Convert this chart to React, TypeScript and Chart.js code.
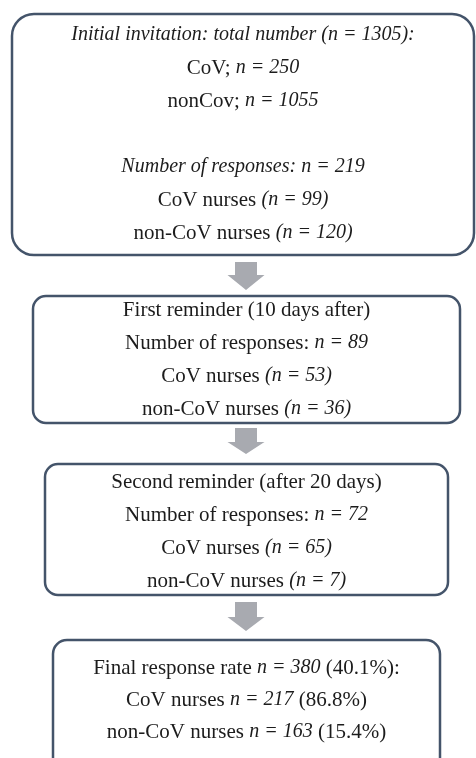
import React, { useEffect, useRef } from "react";
import { Chart, registerables } from "chart.js";

Chart.register(...registerables);

// ---- data ----
const invitedTotal = 1305;
const invitedGroups = ["CoV", "nonCov"];
const invitedCounts = [250, 1055];
const stageTitles = ["", "First reminder (10 days after)", "Second reminder (after 20 days)"];
const responsesTotal = [219, 89, 72];
const responsesCoV = [99, 53, 65];
const responsesNonCoV = [120, 36, 7];
const finalCounts = [380, 217, 163];
const finalRates = ["40.1%", "86.8%", "15.4%"];
const groupLabels = ["CoV nurses", "non-CoV nurses"];

type Seg = { t: string; i?: boolean };
type Line = Seg[] | null;

function buildLines(): Line[][] {
  const box1: Line[] = [
    [{ t: `Initial invitation: total number (n = ${invitedTotal}):`, i: true }],
    [{ t: `${invitedGroups[0]}; ` }, { t: `n = ${invitedCounts[0]}`, i: true }],
    [{ t: `${invitedGroups[1]}; ` }, { t: `n = ${invitedCounts[1]}`, i: true }],
    null,
    [{ t: `Number of responses: n = ${responsesTotal[0]}`, i: true }],
    [{ t: `${groupLabels[0]} ` }, { t: `(n = ${responsesCoV[0]})`, i: true }],
    [{ t: `${groupLabels[1]} ` }, { t: `(n = ${responsesNonCoV[0]})`, i: true }],
  ];
  const reminder = (k: number): Line[] => [
    [{ t: stageTitles[k] }],
    [{ t: "Number of responses: " }, { t: `n = ${responsesTotal[k]}`, i: true }],
    [{ t: `${groupLabels[0]} ` }, { t: `(n = ${responsesCoV[k]})`, i: true }],
    [{ t: `${groupLabels[1]} ` }, { t: `(n = ${responsesNonCoV[k]})`, i: true }],
  ];
  const box4: Line[] = [
    [{ t: "Final response rate " }, { t: `n = ${finalCounts[0]}`, i: true }, { t: ` (${finalRates[0]}):` }],
    [{ t: `${groupLabels[0]} ` }, { t: `n = ${finalCounts[1]}`, i: true }, { t: ` (${finalRates[1]})` }],
    [{ t: `${groupLabels[1]} ` }, { t: `n = ${finalCounts[2]}`, i: true }, { t: ` (${finalRates[2]})` }],
  ];
  return [box1, reminder(1), reminder(2), box4];
}

// ---- layout (positions / styles) ----
const W = 476;
const H = 758;
const boxes = [
  { l: 12, t: 14, r: 474, b: 255, rad: 22, first: 35, gap: 33 },
  { l: 33, t: 296, r: 460, b: 423, rad: 13, first: 310, gap: 33 },
  { l: 45, t: 464, r: 448, b: 595, rad: 13, first: 482, gap: 33 },
  { l: 53, t: 640, r: 440, b: 790, rad: 14, first: 668, gap: 32 },
];
const arrows = [
  { top: 262, base: 275, tip: 290 },
  { top: 428, base: 442, tip: 454 },
  { top: 602, base: 617, tip: 631 },
];
const arrowCx = 246;
const arrowBodyHalf = 11;
const arrowHeadHalf = 18.5;
const FONT_SIZE = 21;
const ITALIC_SIZE = 20;
const FONT_FAMILY = '"Liberation Serif", "DejaVu Serif", serif';

const fontFor = (s: Seg) =>
  s.i ? `italic ${ITALIC_SIZE}px ${FONT_FAMILY}` : `${FONT_SIZE}px ${FONT_FAMILY}`;

const flowPlugin = {
  id: "flow",
  afterDraw(chart: any) {
    const ctx: CanvasRenderingContext2D = chart.ctx;
    const xs = chart.scales.x;
    const ys = chart.scales.y;
    const X = (v: number) => xs.getPixelForValue(v);
    const Y = (v: number) => ys.getPixelForValue(v);
    const lines = buildLines();

    ctx.save();
    // arrows
    ctx.fillStyle = "#a8aab0";
    arrows.forEach((a) => {
      ctx.beginPath();
      ctx.moveTo(X(arrowCx - arrowBodyHalf), Y(a.top));
      ctx.lineTo(X(arrowCx + arrowBodyHalf), Y(a.top));
      ctx.lineTo(X(arrowCx + arrowBodyHalf), Y(a.base));
      ctx.lineTo(X(arrowCx + arrowHeadHalf), Y(a.base));
      ctx.lineTo(X(arrowCx), Y(a.tip));
      ctx.lineTo(X(arrowCx - arrowHeadHalf), Y(a.base));
      ctx.lineTo(X(arrowCx - arrowBodyHalf), Y(a.base));
      ctx.closePath();
      ctx.fill();
    });

    // boxes
    ctx.strokeStyle = "#44546a";
    ctx.lineWidth = 2.5;
    boxes.forEach((b, bi) => {
      const l = X(b.l), r = X(b.r), t = Y(b.t), bo = Y(b.b);
      ctx.beginPath();
      ctx.roundRect(l, t, r - l, bo - t, b.rad);
      ctx.stroke();

      const cx = (l + r) / 2;
      ctx.textBaseline = "middle";
      ctx.textAlign = "left";
      ctx.fillStyle = "#1c1c1c";
      lines[bi].forEach((ln, li) => {
        if (!ln) return;
        const y = Y(b.first + li * b.gap);
        let total = 0;
        const widths = ln.map((s) => {
          ctx.font = fontFor(s);
          const w = ctx.measureText(s.t).width;
          total += w;
          return w;
        });
        let x = cx - total / 2;
        ln.forEach((s, si) => {
          ctx.font = fontFor(s);
          ctx.fillText(s.t, x, y);
          x += widths[si];
        });
      });
    });
    ctx.restore();
  },
};

export default function App() {
  const ref = useRef<HTMLCanvasElement | null>(null);
  useEffect(() => {
    document.body.style.margin = "0";
    const canvas = ref.current;
    if (!canvas) return;
    const chart = new Chart(canvas, {
      type: "scatter",
      data: { datasets: [] },
      options: {
        responsive: false,
        animation: false,
        devicePixelRatio: 1,
        events: [],
        layout: { padding: 0 },
        scales: {
          x: { type: "linear", min: 0, max: W, display: false },
          y: { type: "linear", min: 0, max: H, reverse: true, display: false },
        },
        plugins: { legend: { display: false }, tooltip: { enabled: false } },
      },
      plugins: [flowPlugin],
    } as any);
    return () => chart.destroy();
  }, []);
  return (
    <div style={{ width: W, height: H, background: "#fff" }}>
      <canvas ref={ref} width={W} height={H} style={{ display: "block" }} />
    </div>
  );
}
